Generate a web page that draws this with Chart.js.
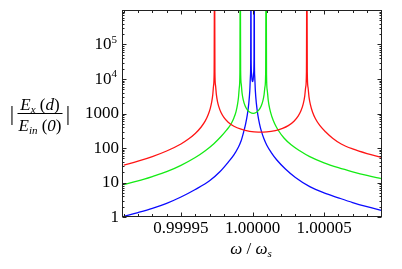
<!DOCTYPE html>
<html>
<head>
<meta charset="utf-8">
<script src="https://cdn.jsdelivr.net/npm/chart.js@4.4.0/dist/chart.umd.min.js"></script>
<style>
  html, body { margin: 0; padding: 0; background: #fff; }
  canvas { display: block; }
</style>
</head>
<body>
<canvas id="chart" width="402" height="269"></canvas>
<script>
// x = (ω/ω_s − 1) in units of 1e-5 (peaks run off the top)
const redX = [-9, -8, -7, -6, -5, -4.5, -4, -3.6, -3.3, -3.1, -2.95, -2.85, -2.78, -2.72, -2.68, -2.653, -2.626, -2.586, -2.526, -2.45, -2.35, -2.2, -2, -1.7, -1.3, -0.8, -0.2, 0.4, 1, 1.6, 2.1, 2.5, 2.9, 3.2, 3.4, 3.55, 3.65, 3.72, 3.77, 3.799, 3.828, 3.878, 3.95, 4.05, 4.2, 4.4, 4.7, 5.1, 5.6, 6.2, 7, 8, 9];
const redY = [32, 41.6, 56.6, 82, 131, 179, 264, 400, 611, 920, 1415, 2165, 3394, 6492, 16200, 1e8, 16300, 6630, 3570, 2260, 1554, 1066, 772, 558, 428, 350, 304, 288, 292, 319, 370, 446, 598, 851, 1236, 1933, 3179, 5929, 16025, 1e8, 15880, 5785, 2994, 1775, 1086, 704, 451, 296, 193, 131, 94, 69, 54];

const greenX = [-9, -8, -7, -6, -5, -4, -3.3, -2.7, -2.2, -1.8, -1.5, -1.3, -1.15, -1.05, -0.98, -0.92, -0.88, -0.855, -0.83, -0.79, -0.73, -0.65, -0.52, -0.35, -0.15, 0.05, 0.25, 0.45, 0.6, 0.72, 0.81, 0.87, 0.92, 0.951, 0.98, 1.03, 1.1, 1.2, 1.35, 1.55, 1.8, 2.2, 2.7, 3.3, 4, 5, 6, 7, 8, 9];
const greenY = [8.7, 11.1, 14.9, 20.6, 31.5, 53, 83.6, 133, 215, 334, 497, 743, 1134, 1800, 2913, 5780, 15355, 1e8, 18580, 7306, 3936, 2520, 1678, 1259, 1066, 1014, 1068, 1265, 1619, 2273, 3522, 5920, 15030, 1e8, 13200, 4720, 2413, 1374, 818, 505, 327, 195, 124, 83, 56, 37, 26.8, 20.4, 16, 13];

const blueX = [-9, -8, -7, -6, -5, -4, -3, -2.3, -1.7, -1.3, -1, -0.8, -0.62, -0.48, -0.36, -0.26, -0.19, -0.145, -0.125, -0.11, -0.095, -0.07, -0.035, 0.005, 0.045, 0.08, 0.105, 0.12, 0.135, 0.155, 0.2, 0.27, 0.37, 0.49, 0.63, 0.8, 1, 1.3, 1.7, 2.3, 3, 4, 5, 6, 7, 8, 9];
const blueY = [1.05, 1.35, 1.78, 2.49, 3.8, 6.29, 11.2, 20.1, 38.7, 63, 103, 159, 291, 504, 933, 1965, 4516, 12070, 30476, 1e8, 34730, 14740, 9632, 8466, 9632, 14740, 34730, 1e8, 30476, 12070, 4516, 1965, 933, 504, 297, 185, 120, 75, 45, 24.7, 14, 7.6, 5, 3.6, 2.63, 2, 1.56];

const xTicks = [-9, -8, -7, -6, -5, -4, -3, -2, -1, 0, 1, 2, 3, 4, 5, 6, 7, 8, 9];
const xLabelAt = [-5, 0, 5];
const xLabelText = ['0.99995', '1.00000', '1.00005'];
const yMajor = [1, 10, 100, 1000, 1e4, 1e5];
const yLabelBase = ['1', '10', '100', '1000', '10', '10'];
const yLabelSup = ['', '', '', '', '4', '5'];

const SERIF = '"Liberation Serif", "Times New Roman", serif';

function pts(xs, ys) {
  return xs.map((x, i) => ({ x: x, y: ys[i] }));
}

function drawRuns(ctx, runs, cx, base) {
  let total = 0;
  runs.forEach(r => { ctx.font = r[1]; total += ctx.measureText(r[0]).width; });
  let x = cx - total / 2;
  runs.forEach(r => {
    ctx.font = r[1];
    ctx.fillText(r[0], x, base + (r[2] || 0));
    x += ctx.measureText(r[0]).width;
  });
  return total;
}

const framePlugin = {
  id: 'frame',
  afterDatasetsDraw(chart) {
    const { ctx, chartArea: a, scales: { x, y } } = chart;
    ctx.save();
    ctx.strokeStyle = '#222';
    ctx.lineWidth = 1;
    const L = Math.round(a.left) - 0.5, R = Math.round(a.right) - 0.5;
    const T = Math.round(a.top) + 0.5, B = Math.round(a.bottom) - 0.5;
    ctx.strokeRect(L, T, R - L, B - T);

    ctx.beginPath();
    xTicks.forEach(v => {
      const px = Math.round(x.getPixelForValue(v)) + 0.5;
      const len = xLabelAt.includes(v) ? 4 : 2.5;
      ctx.moveTo(px, B); ctx.lineTo(px, B - len);
      ctx.moveTo(px, T); ctx.lineTo(px, T + len);
    });
    for (let d = 0; d < 6; d++) {
      for (let k = 1; k <= 9; k++) {
        const v = k * Math.pow(10, d);
        const py = Math.round(y.getPixelForValue(v)) + 0.5;
        const len = k === 1 ? 4 : 2;
        ctx.moveTo(L, py); ctx.lineTo(L + len, py);
        ctx.moveTo(R, py); ctx.lineTo(R - len, py);
      }
    }
    ctx.stroke();

    // y tick labels
    ctx.fillStyle = '#000';
    ctx.textBaseline = 'middle';
    ctx.textAlign = 'right';
    yMajor.forEach((v, i) => {
      const py = y.getPixelForValue(v) + 0.5;
      let right = 119;
      if (yLabelSup[i]) {
        ctx.font = '11px ' + SERIF;
        ctx.fillText(yLabelSup[i], 117, py - 5);
        right = 117 - ctx.measureText(yLabelSup[i]).width;
      }
      ctx.font = '17px ' + SERIF;
      ctx.fillText(yLabelBase[i], right, py);
    });

    // y axis title |E_x(d) / E_in(0)|
    ctx.textAlign = 'left';
    ctx.textBaseline = 'alphabetic';
    const it = 'italic 17px ' + SERIF, rm = '17px ' + SERIF, sub = 'italic 11px ' + SERIF;
    const w1 = drawRuns(ctx, [['E', it], ['x', sub, 3], [' (', rm], ['d', it], [')', rm]], 40, 110);
    const w2 = drawRuns(ctx, [['E', it], ['in', sub, 3], [' (', rm], ['0', it], [')', rm]], 40, 131);
    const w = Math.max(w1, w2) + 2;
    ctx.fillRect(40 - w / 2, 113, w, 1);
    ctx.textAlign = 'center';
    ctx.textBaseline = 'middle';
    ctx.font = '22px ' + SERIF;
    ctx.fillText('|', 12, 114);
    ctx.fillText('|', 68, 114);

    // x axis title ω / ω_s
    ctx.textAlign = 'left';
    ctx.textBaseline = 'alphabetic';
    drawRuns(ctx, [['ω', it], [' / ', rm], ['ω', it], ['s', sub, 3]], 251, 254);
    ctx.restore();
  }
};

new Chart(document.getElementById('chart'), {
  type: 'line',
  data: {
    datasets: [
      { data: pts(redX, redY), borderColor: 'rgb(255,20,20)' },
      { data: pts(greenX, greenY), borderColor: 'rgb(20,235,20)' },
      { data: pts(blueX, blueY), borderColor: 'rgb(10,10,255)' }
    ]
  },
  options: {
    responsive: false,
    animation: false,
    devicePixelRatio: 1,
    layout: { padding: { left: 0, right: 20, top: 10, bottom: 0 } },
    elements: {
      point: { radius: 0 },
      line: { borderWidth: 1.3, cubicInterpolationMode: 'monotone', fill: false }
    },
    plugins: { legend: { display: false }, tooltip: { enabled: false } },
    scales: {
      x: {
        type: 'linear',
        min: -9.05,
        max: 9.05,
        afterBuildTicks: s => { s.ticks = xTicks.map(v => ({ value: v })); },
        afterFit: s => { s.height = 52; },
        grid: { display: false, drawTicks: false },
        border: { display: false },
        ticks: {
          autoSkip: false,
          maxRotation: 0,
          padding: 1,
          color: '#000',
          font: { family: SERIF, size: 17 },
          callback: v => {
            const i = xLabelAt.indexOf(v);
            return i >= 0 ? xLabelText[i] : '';
          }
        }
      },
      y: {
        type: 'logarithmic',
        min: 1,
        max: 1e6,
        afterFit: s => { s.width = 123; },
        grid: { display: false, drawTicks: false },
        border: { display: false },
        ticks: { display: false }
      }
    }
  },
  plugins: [framePlugin]
});
</script>
</body>
</html>
